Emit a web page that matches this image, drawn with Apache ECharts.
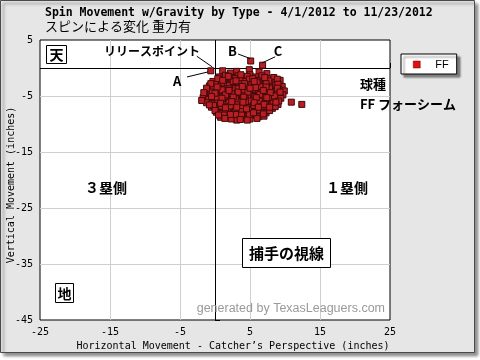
<!DOCTYPE html>
<html><head><meta charset="utf-8">
<script src="https://cdn.jsdelivr.net/npm/echarts@6/dist/echarts.min.js"></script>
<style>html,body{margin:0;padding:0;background:#fff}#c{width:480px;height:360px}</style>
</head><body><div id="c"></div>
<script>
const titleText = 'Spin Movement w/Gravity by Type - 4/1/2012 to 11/23/2012';
const subTitleText = 'スピンによる変化 重力有';
const seriesName = 'FF';
const xTickLabels = [-25, -15, -5, 5, 15, 25];
const yTickLabels = [5, -5, -15, -25, -35, -45];
const xName = 'Horizontal Movement - Catcher\u2019s Perspective (inches)';
const yName = 'Vertical Movement (inches)';
// pitch movement points [horizontal, vertical]
const ffPoints = [
 [1.1,-0.5],[3.1,-0.6],[4.9,-0.3],[6.3,-0.7],[2.2,-0.9],[7.4,-1.0],
 [0.6,-1.6],[1.5,-1.3],[2.4,-1.7],[3.3,-1.4],[4.1,-1.8],[5.0,-1.2],[5.8,-1.6],[6.7,-1.4],[7.6,-1.9],[8.4,-1.7],[4.6,-1.5],[2.9,-1.9],
 [-0.3,-2.4],[0.5,-2.1],[1.3,-2.5],[2.0,-2.2],[2.8,-2.6],[3.6,-2.1],[4.4,-2.4],[5.2,-2.7],[6.0,-2.2],[6.9,-2.5],[7.7,-2.3],[8.6,-2.6],[9.3,-2.2],[1.8,-2.8],[4.9,-2.0],[6.5,-2.9],
 [-0.8,-3.2],[0.1,-2.9],[0.9,-3.3],[1.6,-3.0],[2.5,-3.4],[3.3,-3.1],[4.0,-3.5],[4.8,-3.0],[5.6,-3.3],[6.3,-3.6],[7.1,-3.1],[7.9,-3.4],[8.7,-3.0],[9.6,-3.3],[3.7,-2.8],[5.9,-2.9],
 [-1.0,-4.0],[-0.2,-3.8],[0.6,-4.1],[1.4,-3.7],[2.2,-4.2],[3.0,-3.9],[3.8,-4.3],[4.5,-3.8],[5.3,-4.1],[6.1,-3.9],[6.8,-4.3],[7.6,-3.8],[8.4,-4.2],[9.2,-3.9],[9.9,-4.1],[2.6,-3.6],[5.0,-4.4],
 [-1.4,-4.8],[-0.6,-4.6],[0.3,-4.9],[1.1,-4.5],[1.9,-5.0],[2.7,-4.6],[3.5,-4.9],[4.2,-4.5],[5.0,-4.8],[5.8,-4.6],[6.6,-5.0],[7.3,-4.7],[8.1,-4.9],[8.9,-4.5],[9.7,-4.8],[3.1,-5.1],[6.2,-4.4],
 [-1.7,-5.3],[-0.9,-5.6],[-0.1,-5.4],[0.7,-5.7],[1.5,-5.3],[2.3,-5.6],[3.1,-5.4],[3.9,-5.8],[4.7,-5.3],[5.5,-5.6],[6.3,-5.4],[7.0,-5.8],[7.8,-5.5],[8.6,-5.7],[9.4,-5.4],[4.3,-5.5],[1.9,-5.9],
 [-1.2,-6.2],[-0.4,-6.4],[0.4,-6.1],[1.2,-6.5],[2.0,-6.2],[2.8,-6.6],[3.6,-6.3],[4.4,-6.5],[5.1,-6.1],[5.9,-6.4],[6.7,-6.2],[7.5,-6.6],[8.3,-6.3],[9.0,-6.5],[3.2,-6.0],
 [-0.5,-7.0],[0.3,-7.3],[1.1,-7.0],[1.9,-7.4],[2.7,-7.1],[3.5,-7.3],[4.3,-7.0],[5.1,-7.4],[5.8,-7.1],[6.6,-7.3],[7.4,-7.0],[8.2,-7.2],[4.7,-6.8],
 [0.2,-7.9],[1.0,-8.1],[1.8,-7.8],[2.6,-8.2],[3.4,-7.9],[4.2,-8.2],[5.0,-7.8],[5.8,-8.1],[6.6,-7.8],[7.3,-8.0],[3.8,-7.6],
 [0.8,-8.8],[1.8,-8.6],[2.6,-8.9],[3.5,-8.5],[4.4,-8.7],[5.3,-8.5],[6.2,-8.7],[4.0,-9.0],
 [3.1,-9.3],[2.3,-9.1],[5.0,-9.1],
 [0.9,-2.7],[2.1,-3.1],[3.3,-3.7],[4.4,-3.2],[5.4,-3.8],[6.6,-3.3],[7.5,-4.3],[8.0,-5.2],[6.9,-5.3],[5.7,-5.1],[4.6,-6.0],[3.5,-4.4],[2.4,-4.6],[1.3,-5.1],[0.2,-5.2],[-0.4,-4.3],[0.5,-3.6],[1.6,-4.3],[2.9,-5.5],[4.0,-4.9],[5.2,-5.9],[6.4,-5.9],[7.2,-6.1],[8.5,-5.0],[7.8,-3.6],[6.0,-2.5],[4.2,-2.8],[2.6,-2.4],[1.0,-3.9],
 [-0.2,-6.7],[0.9,-6.8],[2.2,-6.8],[3.9,-6.7],[5.5,-6.7],[6.9,-6.8],[8.6,-6.9],[1.5,-7.6],[2.9,-7.7],[4.8,-7.6],[6.2,-7.5],[7.8,-7.6],[1.3,-8.4],[3.0,-8.3],[4.9,-8.3],[6.0,-9.0],[7.0,-8.6],
 [0.4,-1.9],[1.9,-1.5],[3.7,-1.2],[5.4,-1.9],[7.1,-1.7],[8.9,-2.0],[-0.6,-2.8],[1.1,-2.2],[3.0,-2.3],[5.6,-2.4],[7.3,-2.8],[9.0,-2.9],
 [-1.2,-3.6],[0.3,-3.4],[2.0,-3.7],[4.2,-3.9],[5.8,-3.5],[7.3,-3.4],[8.9,-3.6],[-1.6,-4.4],[0.0,-4.5],[1.5,-4.8],[3.3,-4.3],[4.7,-4.3],[6.4,-4.7],[7.9,-4.4],[9.3,-4.3],
 [-1.9,-5.8],[-0.5,-5.1],[1.0,-5.4],[2.6,-5.2],[4.1,-5.2],[5.9,-5.3],[7.4,-5.3],[9.1,-5.9],[-0.8,-6.6],[0.8,-6.3],[2.4,-6.0],[4.0,-6.1],[5.6,-6.2],[7.0,-6.5],[8.7,-6.1],
 [0.0,-7.6],[1.5,-7.1],[3.1,-7.0],[4.5,-7.3],[6.2,-7.0],[7.8,-7.0],[0.5,-8.4],[2.2,-8.3],[3.8,-8.4],[5.5,-8.0],[6.9,-8.2],[1.4,-9.0],[3.6,-9.2],[4.6,-9.3],
 [2.0,-4.0],[6.9,-4.0],[3.9,-3.3],[5.0,-3.6],
 [-0.6,-0.5],[5.1,1.25],[6.8,0.5],[10.9,-6.1],[12.4,-6.5]
];
// annotation callouts in data units: label, label position, line start, line end
const callouts = [
 {text:'リリースポイント', at:[-9.0,2.9], from:[-2.6,2.1], to:[-0.4,0.2], size:12},
 {text:'A', at:[-5.4,-2.3], from:[-4.0,-1.6], to:[-1.0,-0.7], size:13},
 {text:'B', at:[2.5,3.0], from:[3.3,2.5], to:[5.0,1.7], size:13},
 {text:'C', at:[9.0,3.0], from:[8.6,2.0], to:[6.7,0.9], size:13}
];

const chart = echarts.init(document.getElementById('c'), null, {renderer:'canvas'});
const mono = 'DejaVu Sans Mono';
const gridMarks = [];
xTickLabels.slice(1, -1).forEach(v => gridMarks.push({xAxis: v}));
yTickLabels.slice(1, -1).forEach(v => gridMarks.push({yAxis: v}));

const option = {
  backgroundColor: '#ffffff',
  animation: false,
  grid: {left: 40, top: 40, width: 350, height: 280, show: true, backgroundColor: '#ffffff', borderColor: '#000', borderWidth: 1, z: 1},
  xAxis: {
    type: 'value', min: -25, max: 25, interval: 5,
    axisLine: {show: false},
    axisTick: {show: true, inside: true, length: 5, lineStyle: {color: '#000'}},
    splitLine: {show: false},
    axisLabel: {margin: 7, color: '#000', fontFamily: mono, fontSize: 10,
      formatter: v => xTickLabels.includes(v) ? String(v) : ''}
  },
  yAxis: {
    type: 'value', min: -45, max: 5, interval: 5,
    axisLine: {show: false},
    axisTick: {show: true, inside: true, length: 5, lineStyle: {color: '#000'}},
    splitLine: {show: false},
    axisLabel: {margin: 7, color: '#000', fontFamily: mono, fontSize: 10,
      formatter: v => yTickLabels.includes(v) ? String(v) : ''}
  },
  legend: {
    left: 401, top: 54, orient: 'vertical',
    backgroundColor: '#fff', borderColor: '#000', borderWidth: 1,
    shadowColor: 'rgba(0,0,0,0.45)', shadowBlur: 2, shadowOffsetX: 3, shadowOffsetY: 3,
    padding: [5, 8, 4, 12], itemWidth: 7, itemHeight: 7, icon: 'rect',
    textStyle: {fontFamily: 'Liberation Sans', fontSize: 11, color: '#000', padding: [0, 0, 0, 10]},
    data: [{name: seriesName, itemStyle: {color: '#dd1111', borderColor: '#770000', borderWidth: 0.5}}]
  },
  series: [
    {
      name: 'gridlines', type: 'scatter', data: [], silent: true, z: 2,
      markLine: {silent: true, symbol: 'none', animation: false, label: {show: false},
        lineStyle: {color: '#cfcfcf', type: 'solid', width: 1}, data: gridMarks}
    },
    {
      name: 'axes0', type: 'scatter', data: [], silent: true, z: 3,
      markLine: {silent: true, symbol: 'none', animation: false, label: {show: false},
        lineStyle: {color: '#000', type: 'solid', width: 1}, data: [{xAxis: 0}, {yAxis: 0}]}
    },
    {
      name: seriesName, type: 'scatter', data: ffPoints, symbol: 'rect', symbolSize: 6, z: 5,
      itemStyle: {color: '#b81e24', borderColor: '#3e0909', borderWidth: 1, opacity: 1}
    }
  ]
};
chart.setOption(option);

const px = p => chart.convertToPixel({gridIndex: 0}, p);
const g = [];
g.push({type:'rect', z:-100, shape:{x:0.5, y:0.5, width:474, height:352},
  style:{fill:'#e6e6e6', stroke:'#4a4a4a', lineWidth:1, shadowColor:'rgba(0,0,0,0.45)', shadowBlur:3, shadowOffsetX:3, shadowOffsetY:3}});
g.push({type:'text', z:10, style:{x:45, y:13, text:titleText, font:'bold 11.5px "DejaVu Sans Mono"', fill:'#000', textVerticalAlign:'middle'}});
g.push({type:'text', z:10, style:{x:45, y:26, text:subTitleText, font:'13px "Noto Sans CJK JP"', fill:'#000', textVerticalAlign:'middle'}});
g.push({type:'text', z:10, style:{x:233, y:346, text:xName, font:'10px "DejaVu Sans Mono"', fill:'#000', textAlign:'center', textVerticalAlign:'middle'}});
g.push({type:'text', z:10, x:11, y:185, rotation:Math.PI/2, style:{x:0, y:0, text:yName, font:'10px "DejaVu Sans Mono"', fill:'#000', textAlign:'center', textVerticalAlign:'middle'}});
callouts.forEach(c => {
  const a = px(c.at), f = px(c.from), t = px(c.to);
  g.push({type:'line', z:10, shape:{x1:f[0], y1:f[1], x2:t[0], y2:t[1]}, style:{stroke:'#000', lineWidth:1}});
  g.push({type:'text', z:10, style:{x:a[0], y:a[1], text:c.text, font:'bold '+c.size+'px "Noto Sans CJK JP"', fill:'#000', textAlign:'center', textVerticalAlign:'middle'}});
});
const notes = [
 {text:'球種', x:373, y:84, size:13},
 {text:'FF フォーシーム', x:408, y:104, size:13},
 {text:'３塁側', x:106, y:188, size:14},
 {text:'１塁側', x:347, y:188, size:14}
];
notes.forEach(n => g.push({type:'text', z:10, style:{x:n.x, y:n.y, text:n.text, font:'bold '+n.size+'px "Noto Sans CJK JP"', fill:'#000', textAlign:'center', textVerticalAlign:'middle'}}));
const boxes = [
 {text:'天', x:46.5, y:45.5, w:20, h:18, size:14},
 {text:'地', x:55.5, y:283.5, w:18, h:19, size:14},
 {text:'捕手の視線', x:242.5, y:238.5, w:88, h:29, size:15}
];
boxes.forEach(b => {
  g.push({type:'rect', z:10, shape:{x:b.x, y:b.y, width:b.w, height:b.h}, style:{fill:'#fff', stroke:'#000', lineWidth:1}});
  g.push({type:'text', z:11, style:{x:b.x + b.w/2, y:b.y + b.h/2 + 0.5, text:b.text, font:'bold '+b.size+'px "Noto Sans CJK JP"', fill:'#000', textAlign:'center', textVerticalAlign:'middle'}});
});
g.push({type:'text', z:10, style:{x:385, y:309, text:'generated by TexasLeaguers.com', font:'12.5px "Liberation Sans"', fill:'#9a9a9a', textAlign:'right', textVerticalAlign:'middle'}});
chart.setOption({graphic: g});
</script></body></html>
